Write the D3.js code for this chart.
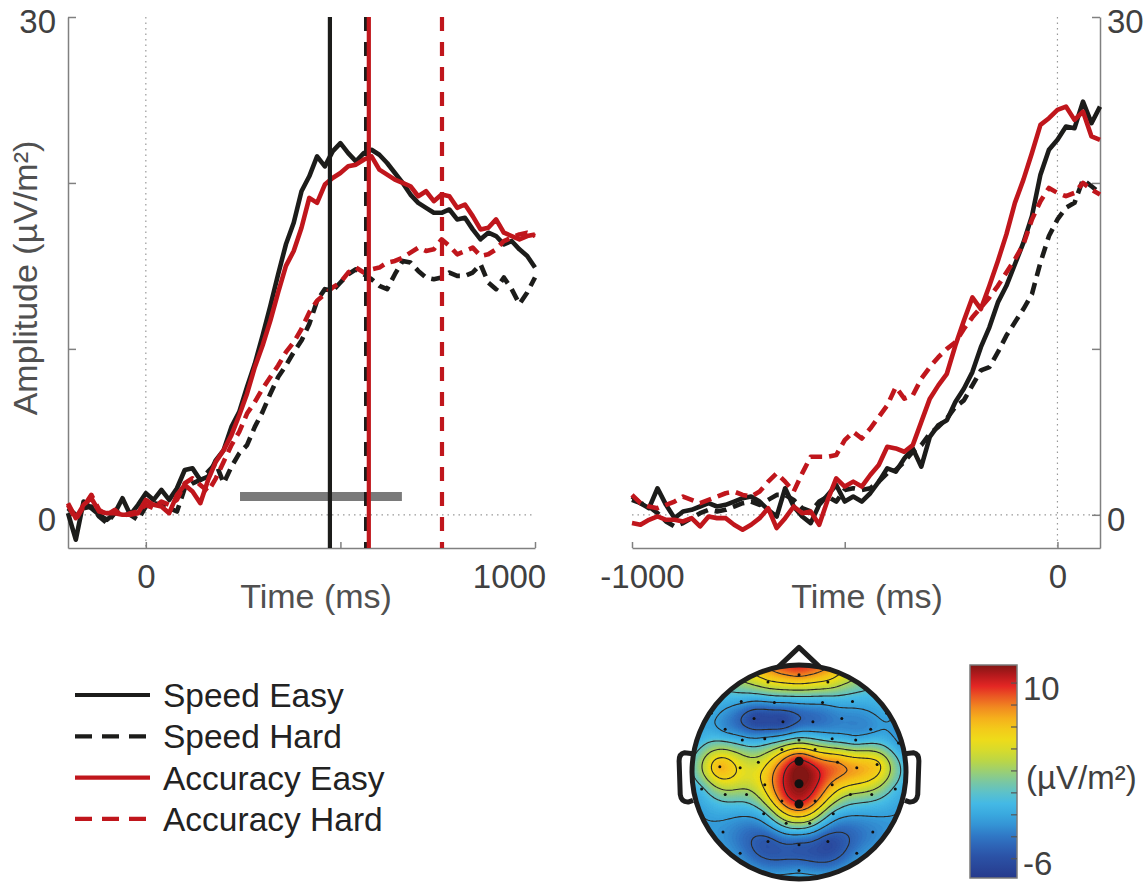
<!DOCTYPE html>
<html>
<head>
<meta charset="utf-8">
<script src="https://cdn.jsdelivr.net/npm/d3@7"></script>
<style>
body { margin: 0; background: #fff; }
text { font-family: "Liberation Sans", Arial, sans-serif; }
</style>
</head>
<body>
<svg id="fig" width="1148" height="883"></svg>
<script>
// ---- data ----
// stimulus-locked panel, 20 ms steps from -200 to 1000 ms
const stimTimes = d3.range(-200, 1001, 20);
const stimSpeedEasy = [0.1, -1.5, 0.8, 0.4, 0.0, -0.3, 0.1, 1.0, 0.0, 0.6,
  1.3, 0.9, 1.5, 0.9, 1.6, 2.7, 2.8, 2.1, 2.3, 3.3,
  3.9, 5.3, 6.2, 7.7, 9.1, 10.8, 12.6, 14.5, 16.3, 17.6,
  19.5, 20.4, 21.6, 21.0, 21.9, 22.4, 21.8, 21.3, 21.8, 22.0,
  21.7, 21.2, 20.6, 20.0, 19.3, 18.8, 18.5, 18.2, 18.2, 18.4,
  17.8, 17.9, 17.2, 16.6, 17.0, 16.8, 16.3, 16.5, 16.0, 15.6, 14.9];
const stimSpeedHard = [0.4, 0.0, 0.4, 0.5, -0.1, -0.5, 0.1, 0.2, 0.0, -0.3,
  0.5, 0.7, 0.6, 0.4, 0.2, 1.6, 1.9, 2.1, 2.6, 3.1,
  1.9, 2.9, 3.7, 4.2, 5.3, 6.2, 7.3, 8.3, 9.0, 9.8,
  10.5, 11.5, 12.9, 13.6, 13.5, 14.0, 14.5, 14.8, 14.5, 14.2,
  13.8, 13.6, 14.5, 15.3, 15.2, 14.7, 14.3, 14.2, 14.3, 14.6,
  14.4, 14.4, 14.6, 15.1, 14.0, 13.6, 14.3, 13.6, 12.7, 13.4, 14.3];
const stimAccEasy = [0.7, -0.2, 0.6, 1.0, 0.2, 0.1, 0.1, 0.0, 0.0, 0.1,
  0.9, 0.6, 0.5, 0.1, 1.2, 1.8, 1.4, 0.7, 2.1, 3.2,
  3.9, 4.8, 6.0, 7.3, 8.9, 10.2, 11.7, 13.4, 15.0, 15.9,
  17.3, 19.1, 18.8, 19.9, 20.3, 20.6, 21.0, 21.1, 21.4, 21.6,
  20.8, 20.5, 20.2, 20.0, 19.8, 19.2, 19.5, 18.9, 19.3, 19.2,
  18.5, 18.7, 18.0, 17.2, 17.3, 17.8, 17.0, 16.8, 16.6, 16.8, 16.9];
const stimAccHard = [0.6, -0.3, 0.5, 1.2, 0.3, 0.0, 0.3, -0.1, 0.1, 0.2,
  0.6, 0.4, 0.8, 0.6, 0.9, 1.9, 2.2, 1.8, 1.4, 2.2,
  3.2, 4.2, 5.0, 6.1, 6.8, 7.6, 8.3, 9.0, 9.8, 10.4,
  11.2, 12.2, 12.9, 13.3, 13.7, 14.0, 14.6, 14.9, 14.6, 14.8,
  14.9, 15.2, 15.3, 15.5, 15.8, 16.1, 15.9, 16.0, 16.6, 16.2,
  15.7, 15.9, 16.1, 15.6, 15.7, 16.0, 16.5, 16.7, 16.9, 17.0, 16.8];

// response-locked panel, 20 ms steps from -1000 to 100 ms
const respTimes = d3.range(-1000, 101, 20);
const respSpeedEasy = [1.1, 0.7, 0.4, 1.6, 0.6, -0.2, 0.2, 0.3, 0.5, 0.7,
  0.5, 0.6, 0.8, 1.0, 1.1, 0.8, 0.3, -0.1, 1.6, 0.5,
  -0.1, -0.5, 0.6, 1.2, 1.8, 0.8, 1.1, 0.8, 1.3, 2.0,
  2.8, 2.6, 3.4, 4.0, 2.9, 4.7, 5.4, 5.7, 6.8, 7.6,
  8.6, 10.1, 11.3, 12.8, 13.8, 15.1, 16.4, 18.0, 20.5, 22.0,
  22.6, 23.4, 23.3, 24.9, 23.6, 24.6];
const respSpeedHard = [0.9, 0.7, 0.5, 0.1, -0.4, -0.7, -0.5, -0.2, 0.1, 0.3,
  0.2, 0.3, 0.5, 0.7, 0.8, 0.6, 0.9, 1.2, 1.2, 0.9,
  0.4, 0.2, 0.8, 1.1, 0.8, 1.5, 1.6, 1.5, 1.6, 2.0,
  2.5, 2.7, 3.2, 3.8, 4.2, 4.9, 5.3, 5.8, 6.5, 6.9,
  7.8, 8.7, 8.9, 9.8, 10.8, 11.6, 12.4, 13.3, 15.2, 16.8,
  17.8, 18.5, 18.8, 20.2, 19.8, 19.4];
const respAccEasy = [-0.5, -0.6, -0.3, -0.1, -0.3, -0.3, -0.4, -0.2, -0.7, -0.1,
  -0.2, -0.2, -0.6, -0.9, -0.6, -0.2, 0.4, -0.8, -0.2, 0.5,
  0.1, 0.2, -0.6, 0.9, 2.2, 1.7, 2.0, 1.7, 2.4, 3.0,
  4.1, 4.0, 3.8, 4.2, 5.6, 7.0, 7.8, 8.5, 10.2, 11.7,
  13.1, 12.4, 13.8, 15.3, 16.9, 18.8, 20.2, 21.8, 23.5, 23.9,
  24.4, 24.6, 23.8, 24.3, 22.8, 22.6];
const respAccHard = [1.2, 0.7, 0.5, 0.4, 0.6, 0.8, 1.1, 0.9, 0.7, 0.9,
  1.1, 1.3, 1.4, 1.2, 1.1, 1.4, 2.0, 2.5, 2.0, 1.4,
  2.5, 3.5, 3.5, 3.5, 3.6, 4.5, 5.0, 4.6, 5.2, 5.9,
  6.6, 7.7, 7.0, 7.2, 8.2, 8.9, 9.5, 10.0, 10.4, 11.2,
  11.9, 12.5, 13.1, 13.8, 14.6, 15.4, 16.3, 17.8, 18.9, 19.7,
  19.4, 19.2, 19.4, 20.0, 19.6, 19.3];

const conditions = ['Speed Easy', 'Speed Hard', 'Accuracy Easy', 'Accuracy Hard'];
const condColors = ['#1c1c1a', '#1c1c1a', '#c0161c', '#c0161c'];
const condDashed = [false, true, false, true];
// median RT markers (ms), same order as conditions
const rtMarkers = [473, 566, 573, 761];
// significant window
const sigWindow = [242, 658];
const sigLevel = 1.1;
const yTicks = [0, 10, 20, 30];

// electrodes: normalised head coords (x right, y back) and amplitude
const elecX = [0, -0.29, 0.27, -0.54, -0.23, 0.22, 0.50, -0.42, -0.15, 0.13,
  0.40, -0.69, 0.67, -0.32, 0, 0.31, -0.53, 0.53, -0.97, 0.93,
  -0.16, 0.15, -0.74, -0.55, -0.38, 0, 0.36, 0.54, 0.73, -0.32,
  0, 0.31, -0.91, 0.90, -0.69, -0.49, 0.48, 0.68, -0.16, 0,
  0.15, -0.33, 0.32, -0.12, 0.10, -0.71, 0.69, -0.29, 0.27, -0.55,
  0.54, 0, -0.82, 0.82, 0];
const elecY = [-0.91, -0.84, -0.84, -0.66, -0.65, -0.65, -0.66, -0.50, -0.47, -0.47,
  -0.50, -0.40, -0.40, -0.31, -0.30, -0.31, -0.30, -0.30, -0.27, -0.27,
  -0.21, -0.21, -0.05, -0.04, -0.09, -0.10, -0.09, -0.04, -0.07, 0.12,
  0.11, 0.12, 0.16, 0.16, 0.21, 0.21, 0.21, 0.21, 0.27, 0.30,
  0.27, 0.39, 0.39, 0.48, 0.48, 0.56, 0.56, 0.65, 0.65, 0.76,
  0.76, 0.92, -0.55, -0.55, 0.68];
const elecVal = [8.0, 4.5, 4.5, -2.0, -2.5, -2.0, -1.5, -6.5, -6.5, -4.5,
  -3.5, -3.0, -3.0, -2.0, 1.0, -1.0, -1.5, -1.5, -1.5, -2.5,
  3.8, 4.3, 6.6, 4.5, 3.5, 10.5, 7.5, 7.0, 5.6, 5.5,
  11.6, 7.0, -0.5, -0.5, 1.5, 1.5, 2.5, 1.5, 8.0, 9.5,
  8.0, -0.5, -0.5, 1.5, 1.5, -3.0, -3.5, -5.6, -6.2, -3.5,
  -3.5, -3.0, -2.0, -2.0, -5.3];
const highlighted = [25, 30, 39];

const colorDomain = [-7.8, 11.6];
const colorStops = ['#263a8c', '#2b4fa3', '#2f6fc0', '#35a0dc', '#47bde6', '#7cc8a0',
  '#b8d548', '#ecdf1a', '#f6c11a', '#f07c22', '#e31e24', '#821614'];
const colorbarTicks = [-6, -4, -2, 0, 2, 4, 6, 8, 10];
const contourLevels = [-5, -2.5, 0, 2.5, 5, 7.5, 10];

const svg = d3.select('#fig');
const y = d3.scaleLinear().domain([-2, 30]).range([548, 17]);

function drawPanel(times, series, xScale, side, xLabelX) {
  const g = svg.append('g');
  const [x0, x1] = xScale.range();

  // dotted zero lines
  g.append('line')
    .attr('x1', x0).attr('x2', x1).attr('y1', y(0)).attr('y2', y(0))
    .attr('stroke', '#999').attr('stroke-width', 1.2).attr('stroke-dasharray', '1.5,4');
  g.append('line')
    .attr('x1', xScale(0)).attr('x2', xScale(0)).attr('y1', y(30)).attr('y2', y(-2))
    .attr('stroke', '#999').attr('stroke-width', 1.2).attr('stroke-dasharray', '1.5,4');

  // axes
  const yAxis = (side === 'left' ? d3.axisLeft(y) : d3.axisRight(y))
    .tickValues(yTicks)
    .tickSizeInner(-8).tickSizeOuter(0).tickPadding(side === 'left' ? 12 : 7)
    .tickFormat(d => (d === 0 || d === 30) ? d : '');
  const yG = g.append('g')
    .attr('class', 'axis')
    .attr('transform', `translate(${side === 'left' ? x0 : x1},0)`)
    .call(yAxis);
  yG.selectAll('text').attr('dy', '0.46em');

  const xTicks = xScale.ticks(3).filter(d => d % 500 === 0);
  const xAxis = d3.axisBottom(xScale)
    .tickValues(xTicks)
    .tickSizeInner(-6).tickSizeOuter(0).tickPadding(17)
    .tickFormat(d => (d % 1000 === 0) ? d : '');
  g.append('g')
    .attr('class', 'axis xaxis')
    .attr('transform', `translate(0,${y(-2)})`)
    .call(xAxis);

  g.selectAll('.axis path, .axis line').attr('stroke', '#808080').attr('stroke-width', 1.5);
  g.selectAll('.axis text').attr('font-size', 33).attr('fill', '#404040')
    .attr('font-family', '"Liberation Sans", Arial, sans-serif');

  g.append('text')
    .attr('x', xLabelX).attr('y', 608)
    .attr('text-anchor', 'middle')
    .attr('font-size', 34).attr('fill', '#505050')
    .text('Time (ms)');

  // curves
  const line = d3.line()
    .x((d, i) => xScale(times[i]))
    .y(d => y(d));
  series.forEach((s, k) => {
    g.append('path')
      .datum(s)
      .attr('d', line)
      .attr('fill', 'none')
      .attr('stroke', condColors[k])
      .attr('stroke-width', 4.6)
      .attr('stroke-linejoin', 'round')
      .attr('stroke-dasharray', condDashed[k] ? '12,7' : null);
  });
  return g;
}

// stimulus-locked
const xStim = d3.scaleLinear().domain([-200, 1000]).range([68, 535]);
const gStim = drawPanel(stimTimes, [stimSpeedEasy, stimSpeedHard, stimAccEasy, stimAccHard], xStim, 'left', 316);

// significance bar, placed beneath the curves
gStim.insert('line', 'path + path')
  .attr('x1', xStim(sigWindow[0])).attr('x2', xStim(sigWindow[1]))
  .attr('y1', y(sigLevel)).attr('y2', y(sigLevel))
  .attr('stroke', '#7a7a7a').attr('stroke-width', 9);

// RT markers
rtMarkers.forEach((t, k) => {
  gStim.append('line')
    .attr('x1', xStim(t)).attr('x2', xStim(t))
    .attr('y1', y(30)).attr('y2', y(-2))
    .attr('stroke', condColors[k]).attr('stroke-width', 4.2)
    .attr('stroke-dasharray', condDashed[k] ? '14,11' : null);
});

// shift last stim label left as in the figure
gStim.selectAll('.xaxis text').filter(d => d === 1000).attr('dx', -26);

// y axis title
svg.append('text')
  .attr('transform', 'translate(37,278) rotate(-90)')
  .attr('text-anchor', 'middle')
  .attr('font-size', 34).attr('fill', '#505050')
  .text('Amplitude (µV/m²)');

// response-locked
const xResp = d3.scaleLinear().domain([-1000, 100]).range([632, 1100]);
const gResp = drawPanel(respTimes, [respSpeedEasy, respSpeedHard, respAccEasy, respAccHard], xResp, 'right', 867);
gResp.selectAll('.xaxis text').filter(d => d === -1000).attr('dx', 10);

// ---- legend ----
const legend = svg.append('g').attr('transform', 'translate(75,695)');
conditions.forEach((c, k) => {
  const row = legend.append('g').attr('transform', `translate(0,${k * 41.3})`);
  row.append('line')
    .attr('x1', 0).attr('x2', 75)
    .attr('stroke', condColors[k]).attr('stroke-width', 4.2)
    .attr('stroke-dasharray', condDashed[k] ? '17,10' : null);
  row.append('text')
    .attr('x', 88).attr('dy', '0.36em')
    .attr('font-size', 33.5).attr('fill', '#222')
    .text(c);
});

// ---- topography ----
const headCx = 799, headCy = 772, headR = 107;
const color = d3.scaleSequential(d3.piecewise(d3.interpolateRgb, colorStops))
  .domain(colorDomain).clamp(true);

// biharmonic spline (as in griddata v4)
const greenFn = r => r === 0 ? 0 : r * r * (Math.log(r) - 1);
function solve(A, b) {
  const n = b.length;
  const M = A.map((r, i) => [...r, b[i]]);
  for (let c = 0; c < n; c++) {
    let p = c;
    for (let r = c + 1; r < n; r++) if (Math.abs(M[r][c]) > Math.abs(M[p][c])) p = r;
    [M[c], M[p]] = [M[p], M[c]];
    for (let r = c + 1; r < n; r++) {
      const f = M[r][c] / M[c][c];
      for (let k = c; k <= n; k++) M[r][k] -= f * M[c][k];
    }
  }
  const x = new Array(n).fill(0);
  for (let r = n - 1; r >= 0; r--) {
    let s = M[r][n];
    for (let k = r + 1; k < n; k++) s -= M[r][k] * x[k];
    x[r] = s / M[r][r];
  }
  return x;
}
const nE = elecX.length;
const G = d3.range(nE).map(i => d3.range(nE).map(j =>
  greenFn(Math.hypot(elecX[i] - elecX[j], elecY[i] - elecY[j]))));
const weights = solve(G, elecVal);

const gridN = 121, gridExt = 1.06;
const gridVals = new Float64Array(gridN * gridN);
for (let j = 0; j < gridN; j++) {
  for (let i = 0; i < gridN; i++) {
    const px = -gridExt + 2 * gridExt * i / (gridN - 1);
    const py = -gridExt + 2 * gridExt * j / (gridN - 1);
    let v = 0;
    for (let k = 0; k < nE; k++) v += weights[k] * greenFn(Math.hypot(px - elecX[k], py - elecY[k]));
    gridVals[j * gridN + i] = v;
  }
}
const toPx = gx => (-gridExt + 2 * gridExt * (gx - 0.5) / (gridN - 1)) * headR;
const gridPath = d3.geoPath(d3.geoTransform({
  point(px, py) { this.stream.point(headCx + toPx(px), headCy + toPx(py)); }
}));

svg.append('clipPath').attr('id', 'headClip')
  .append('circle').attr('cx', headCx).attr('cy', headCy).attr('r', headR);
const topo = svg.append('g').attr('clip-path', 'url(#headClip)');
topo.append('circle').attr('cx', headCx).attr('cy', headCy).attr('r', headR)
  .attr('fill', color(colorDomain[0]));

const fillStep = 0.25;
const fillLevels = d3.range(colorDomain[0], colorDomain[1] + 0.01, fillStep);
const fills = d3.contours().size([gridN, gridN]).thresholds(fillLevels)(gridVals);
topo.selectAll('path.fill').data(fills).join('path')
  .attr('class', 'fill')
  .attr('d', gridPath)
  .attr('fill', d => color(d.value + fillStep / 2))
  .attr('stroke', d => color(d.value + fillStep / 2)).attr('stroke-width', 0.4);

const isolines = d3.contours().size([gridN, gridN]).thresholds(contourLevels)(gridVals);
topo.selectAll('path.iso').data(isolines).join('path')
  .attr('class', 'iso')
  .attr('d', gridPath)
  .attr('fill', 'none').attr('stroke', '#2a2a2a').attr('stroke-width', 1.1);

// electrodes
topo.selectAll('circle.el').data(d3.range(nE)).join('circle')
  .attr('class', 'el')
  .attr('cx', k => headCx + elecX[k] * headR)
  .attr('cy', k => headCy + elecY[k] * headR)
  .attr('r', k => highlighted.includes(k) ? 4.5 : 1.5)
  .attr('fill', '#111');

// head outline, nose, ears
const hp = (nx, ny) => [headCx + nx * headR, headCy + ny * headR];
const outline = svg.append('g').attr('fill', 'none').attr('stroke', '#1e1e1e')
  .attr('stroke-width', 5).attr('stroke-linejoin', 'round');
outline.append('circle').attr('cx', headCx).attr('cy', headCy).attr('r', headR);
outline.append('path').attr('d', d3.line()([hp(-0.19, -0.985), hp(0, -1.165), hp(0.19, -0.985)]));
[-1, 1].forEach(s => {
  const p = d3.path();
  p.moveTo(...hp(s * 0.99, -0.17));
  p.lineTo(...hp(s * 1.07, -0.18));
  p.quadraticCurveTo(...hp(s * 1.125, -0.17), ...hp(s * 1.12, -0.09));
  p.lineTo(...hp(s * 1.11, 0.21));
  p.quadraticCurveTo(...hp(s * 1.10, 0.285), ...hp(s * 1.03, 0.28));
  p.lineTo(...hp(s * 0.99, 0.265));
  outline.append('path').attr('d', p.toString());
});

// ---- colorbar ----
const cbX = 970, cbW = 47, cbTop = 665, cbBottom = 878;
const cbScale = d3.scaleLinear().domain(colorDomain).range([cbBottom, cbTop]);
const grad = svg.append('defs').append('linearGradient')
  .attr('id', 'cbGrad').attr('x1', 0).attr('x2', 0).attr('y1', 1).attr('y2', 0);
d3.range(0, 1.0001, 0.05).forEach(f => {
  grad.append('stop').attr('offset', f)
    .attr('stop-color', color(colorDomain[0] + f * (colorDomain[1] - colorDomain[0])));
});
svg.append('rect').attr('x', cbX).attr('y', cbTop).attr('width', cbW).attr('height', cbBottom - cbTop)
  .attr('fill', 'url(#cbGrad)').attr('stroke', '#7a7a7a').attr('stroke-width', 1.5);
const cbAxis = d3.axisRight(cbScale).tickValues(colorbarTicks)
  .tickSizeInner(-6).tickSizeOuter(0).tickPadding(6)
  .tickFormat(d => (d === 10 || d === -6) ? d : '');
const cbG = svg.append('g').attr('transform', `translate(${cbX + cbW},0)`).call(cbAxis);
cbG.select('.domain').remove();
cbG.selectAll('line').attr('stroke', '#555').attr('stroke-width', 1.2);
cbG.selectAll('text').attr('font-size', 33).attr('fill', '#404040').attr('dy', '0.5em')
  .attr('font-family', '"Liberation Sans", Arial, sans-serif');
svg.append('text')
  .attr('x', 1026).attr('y', 777).attr('dy', '0.36em')
  .attr('font-size', 33).attr('fill', '#404040')
  .text('(µV/m²)');
</script>
</body>
</html>
